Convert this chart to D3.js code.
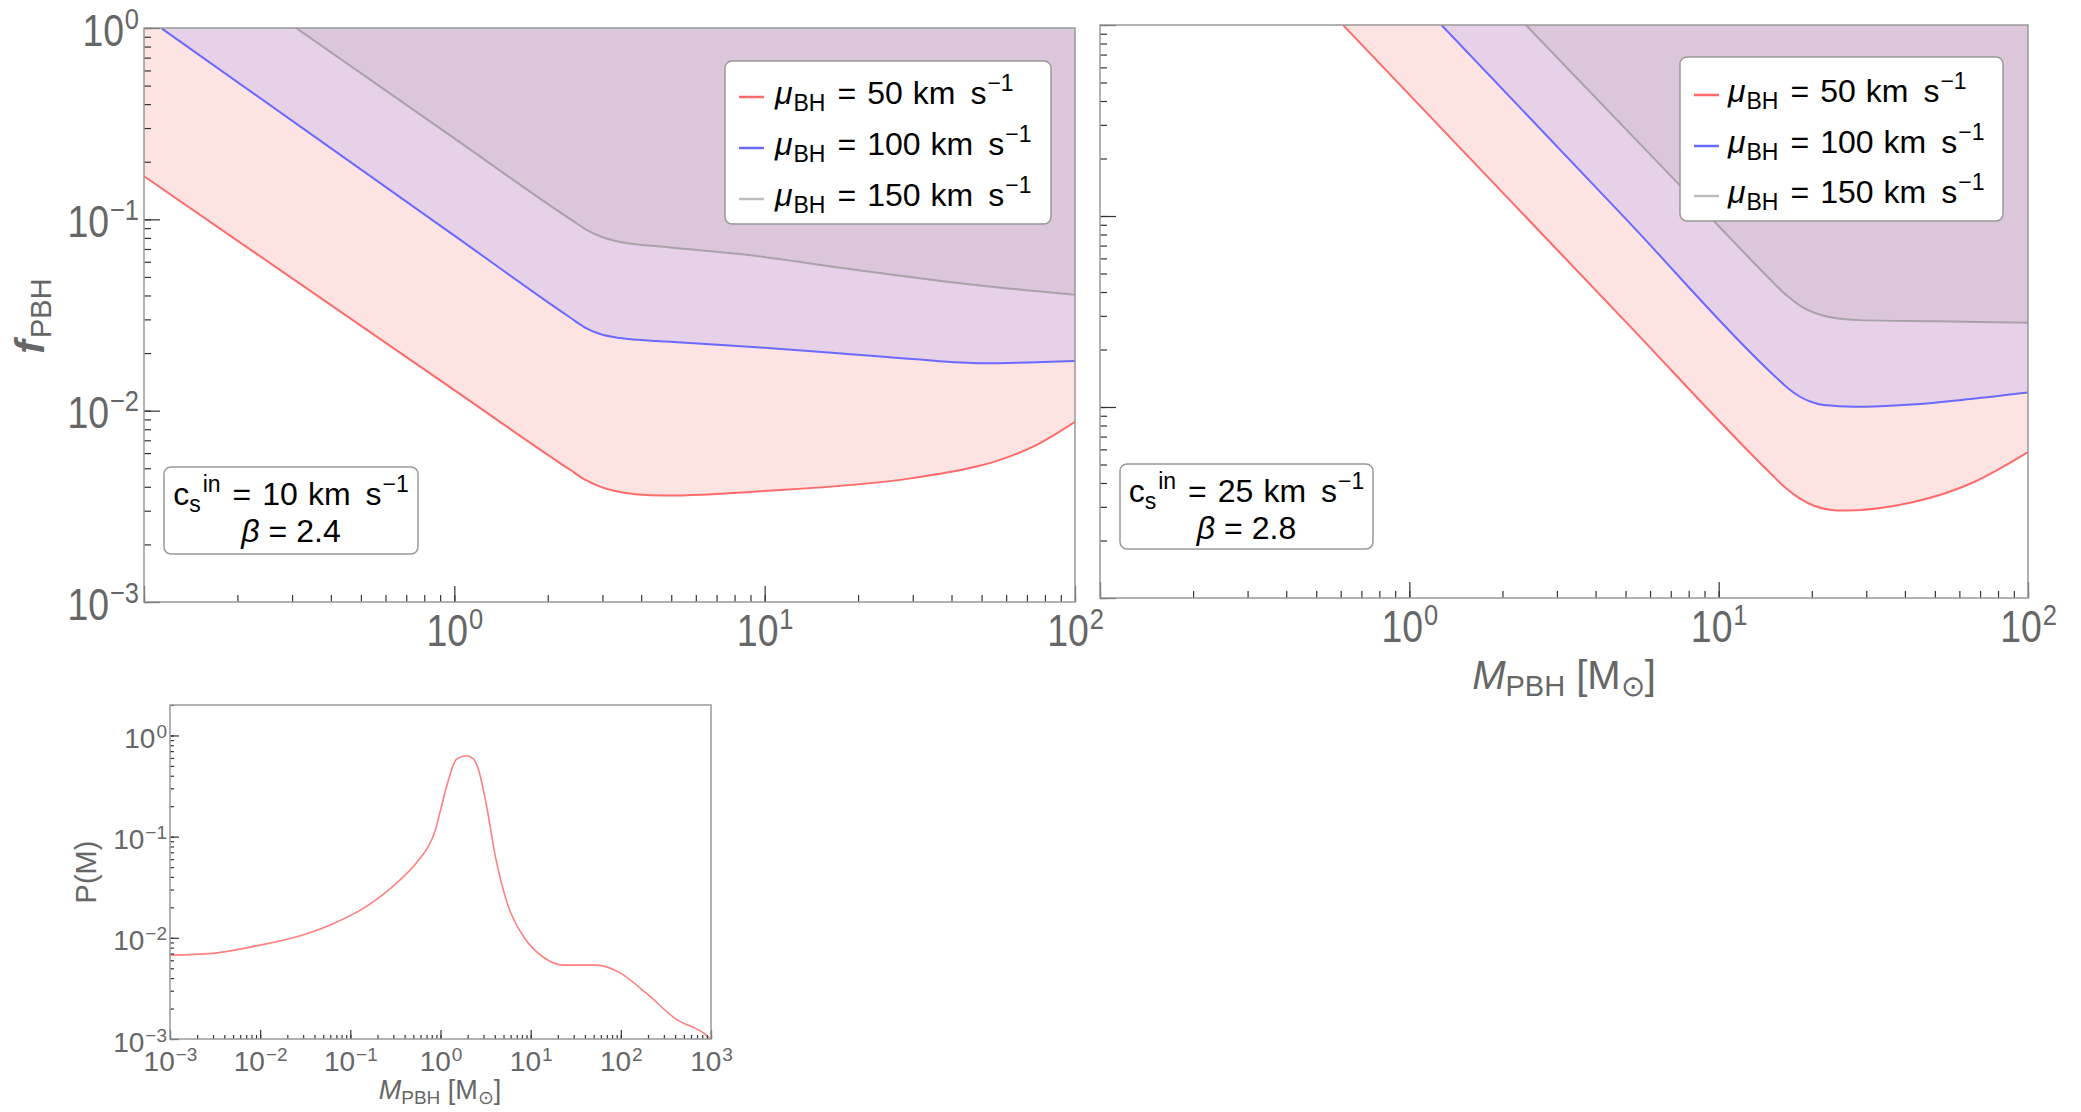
<!DOCTYPE html>
<html>
<head>
<meta charset="utf-8">
<script src="https://cdn.jsdelivr.net/npm/d3@7"></script>
<style>
  body { margin: 0; background: #fff; }
  svg { display: block; }
</style>
</head>
<body>
<svg id="chart" width="2081" height="1112"></svg>
<script>
// ---- data ----
// left panel: c_s^in = 10 km/s, beta = 2.4
const redLeftMass = [0.1, 1, 2.36, 2.638, 2.949, 3.296, 3.822, 4.81, 10, 29.9, 45, 55.7, 75, 100];
const redLeftF = [0.168, 0.0128, 0.00491, 0.00436, 0.00401, 0.0038, 0.00366, 0.0036, 0.0038, 0.00444, 0.00498, 0.00545, 0.00661, 0.00875];
const blueLeftMass = [0.1135, 1, 2.36, 2.638, 2.949, 3.42, 4.8, 10, 17.7, 30, 50.2, 100];
const blueLeftF = [1, 0.0822, 0.0307, 0.0272, 0.02514, 0.02396, 0.023, 0.0213, 0.0199, 0.0186, 0.0177, 0.0182];
const grayLeftMass = [0.309, 1, 2.395, 2.677, 2.992, 3.42, 4.8, 8.6, 17.7, 50.2, 100];
const grayLeftF = [1, 0.265, 0.0988, 0.0879, 0.0808, 0.0761, 0.0717, 0.0655, 0.0557, 0.045, 0.0404];

// right panel: c_s^in = 25 km/s, beta = 2.8
const redRightMass = [0.61, 5, 14.62, 16.34, 18.27, 20.43, 22.84, 25.53, 42, 67, 100];
const redRightF = [1, 0.028, 0.00454, 0.00381, 0.00332, 0.00303, 0.0029, 0.00287, 0.00316, 0.00405, 0.0058];
const blueRightMass = [1.27, 5, 15.28, 16.71, 18.27, 19.98, 21.84, 27.5, 42, 65, 100];
const blueRightF = [1, 0.0969, 0.01436, 0.01258, 0.01135, 0.01062, 0.01024, 0.01002, 0.0103, 0.011, 0.0119];
const grayRightMass = [2.38, 8, 14.62, 15.98, 17.47, 19.1, 20.89, 23.7, 28.55, 50, 100];
const grayRightF = [1, 0.1294, 0.0468, 0.0405, 0.0359, 0.0326, 0.0307, 0.0292, 0.0285, 0.0281, 0.0276];

// bottom panel: mass function P(M)
const pmMass = [0.001, 0.00295, 0.00875, 0.0291, 0.0626, 0.1346, 0.29, 0.548, 0.71, 0.847, 1.02, 1.21, 1.5,
  1.93, 2.3, 2.6, 3.2, 4.07, 5.5, 8.4, 13.6, 23.4, 54.3, 93.8, 193, 398, 927, 1000];
const pmValue = [0.00675, 0.00702, 0.00828, 0.0106, 0.01365, 0.0192, 0.0317, 0.0558, 0.0764, 0.1056, 0.195, 0.35, 0.58,
  0.63, 0.59, 0.48, 0.214, 0.063, 0.0219, 0.0102, 0.0065, 0.00537, 0.00537, 0.00461, 0.00282, 0.0016, 0.00105, 0.00098];

const speeds = ["50", "100", "150"];
const fMajorTicks = [0.001, 0.01, 0.1, 1];
const mMajorTicks = [0.1, 1, 10, 100];
const mLabelTicks = [1, 10, 100];
const pmMajorTicks = [0.001, 0.01, 0.1, 1, 10, 100, 1000];
const pMajorTicks = [0.001, 0.01, 0.1, 1];

const FONT = '"Liberation Sans", Arial, Helvetica, sans-serif';
const RED = "#ff6b6b", BLUE = "#6a6aff", GRAY = "rgba(140,140,140,0.65)";
const FILLS = ["#fee3e3", "#e6d1e8", "#dbc6da"];

const svg = d3.select("#chart").attr("font-family", FONT);

function makePanel(name, box, xDomain, yDomain) {
  const x = d3.scaleLog().domain(xDomain).range([box.left, box.right]);
  const y = d3.scaleLog().domain(yDomain).range([box.bottom, box.top]);
  svg.append("clipPath").attr("id", "clip-" + name).append("rect")
    .attr("x", box.left).attr("y", box.top)
    .attr("width", box.right - box.left).attr("height", box.bottom - box.top);
  const g = svg.append("g");
  const plot = g.append("g").attr("clip-path", `url(#clip-${name})`);
  return { x, y, g, plot, box };
}

function expLabels(sel, supSize, raise) {
  sel.each(function (d) {
    const t = d3.select(this);
    const e = Math.round(Math.log10(d));
    t.text(null);
    t.append("tspan").text("10");
    t.append("tspan").attr("font-size", supSize).attr("dy", -raise).attr("dx", 1)
      .text(e < 0 ? "\u2212" + (-e) : e);
  });
}

function drawAxes(p, cfg) {
  const { x, y, g, box } = p;
  const style = a => {
    a.attr("font-family", FONT);
    a.select(".domain").remove();
    a.selectAll("line").attr("stroke", "#333").attr("stroke-width", 1.2);
  };
  // minor ticks
  g.append("g").attr("transform", `translate(0,${box.bottom})`)
    .call(d3.axisBottom(x).tickValues(x.ticks()).tickSizeInner(-cfg.minor).tickSizeOuter(0).tickFormat(""))
    .call(style);
  g.append("g").attr("transform", `translate(${box.left},0)`)
    .call(d3.axisLeft(y).tickValues(y.ticks()).tickSizeInner(-cfg.minor).tickSizeOuter(0).tickFormat(""))
    .call(style);
  // major ticks
  g.append("g").attr("transform", `translate(0,${box.bottom})`)
    .call(d3.axisBottom(x).tickValues(cfg.xMajor).tickSizeInner(-cfg.major).tickSizeOuter(0).tickFormat(""))
    .call(style);
  g.append("g").attr("transform", `translate(${box.left},0)`)
    .call(d3.axisLeft(y).tickValues(cfg.yMajor).tickSizeInner(-cfg.major).tickSizeOuter(0).tickFormat(""))
    .call(style);
  // labels
  const xl = g.append("g").attr("transform", `translate(0,${box.bottom})`)
    .call(d3.axisBottom(x).tickValues(cfg.xLabels).tickSize(0).tickFormat(d => d))
    .call(style);
  xl.selectAll("text").attr("y", cfg.xLabelY).attr("dy", 0)
    .attr("font-size", cfg.font).attr("fill", "#666")
    .attr("transform", `scale(${cfg.squeeze},1)`)
    .call(expLabels, cfg.sup, cfg.raise);
  if (cfg.yLabels) {
    const yl = g.append("g").attr("transform", `translate(${box.left},0)`)
      .call(d3.axisLeft(y).tickValues(cfg.yLabels).tickSize(0).tickFormat(d => d))
      .call(style);
    yl.selectAll("text").attr("x", -cfg.yPad / cfg.squeeze).attr("dy", cfg.yLabelDy)
      .attr("font-size", cfg.font).attr("fill", "#666")
      .attr("transform", `scale(${cfg.squeeze},1)`)
      .call(expLabels, cfg.sup, cfg.raise);
  }
  g.append("rect").attr("x", box.left).attr("y", box.top)
    .attr("width", box.right - box.left).attr("height", box.bottom - box.top)
    .attr("fill", "none").attr("stroke", "#999").attr("stroke-width", 1.5);
}

function drawBands(p, series) {
  const top = p.box.top;
  series.forEach((s, i) => {
    const pts = s.m.map((m, j) => [m, s.f[j]]);
    p.plot.append("path").datum(pts)
      .attr("fill", FILLS[i])
      .attr("d", d3.area().x(d => p.x(d[0])).y0(top).y1(d => p.y(d[1])).curve(d3.curveMonotoneX));
  });
  series.forEach(s => {
    const pts = s.m.map((m, j) => [m, s.f[j]]);
    p.plot.append("path").datum(pts)
      .attr("fill", "none").attr("stroke", s.color).attr("stroke-width", 2)
      .attr("d", d3.line().x(d => p.x(d[0])).y(d => p.y(d[1])).curve(d3.curveMonotoneX));
  });
}

// "= value km  s^-1" tail shared by legend rows and note boxes; back = dy that returns to the baseline
function kmPerS(t, value, back) {
  t.append("tspan").attr("dx", 12).attr("dy", back).text("=");
  t.append("tspan").attr("dx", 11).text(value);
  t.append("tspan").attr("dx", 10).text("km");
  t.append("tspan").attr("dx", 15).text("s");
  t.append("tspan").attr("font-size", 23).attr("dy", -13).attr("dx", 1).text("\u22121");
}

function legend(box, lineX, rowsY, textX) {
  const g = svg.append("g");
  g.append("rect").attr("x", box.x).attr("y", box.y).attr("width", box.w).attr("height", box.h)
    .attr("rx", 7).attr("fill", "#fff").attr("stroke", "#999").attr("stroke-width", 1.5);
  const colors = [RED, BLUE, "#bdbdbd"];
  speeds.forEach((v, i) => {
    const yy = rowsY[i];
    g.append("line").attr("x1", lineX).attr("x2", lineX + 25).attr("y1", yy).attr("y2", yy)
      .attr("stroke", colors[i]).attr("stroke-width", 2.5);
    const t = g.append("text").attr("x", textX).attr("y", yy + 7).attr("font-size", 32).attr("fill", "#000");
    t.append("tspan").attr("font-style", "italic").text("\u03bc");
    t.append("tspan").attr("font-size", 23).attr("dy", 7).attr("dx", 1).text("BH");
    kmPerS(t, v, -7);
  });
}

function noteBox(box, cs, beta) {
  const g = svg.append("g");
  g.append("rect").attr("x", box.x).attr("y", box.y).attr("width", box.w).attr("height", box.h)
    .attr("rx", 7).attr("fill", "#fff").attr("stroke", "#999").attr("stroke-width", 1.5);
  const cx = box.x + box.w / 2;
  const t1 = g.append("text").attr("x", cx).attr("y", box.y + 38).attr("text-anchor", "middle")
    .attr("font-size", 32);
  t1.append("tspan").text("c");
  t1.append("tspan").attr("font-size", 23).attr("dy", 7).text("s");
  t1.append("tspan").attr("font-size", 23).attr("dy", -20).attr("dx", 2).text("in");
  kmPerS(t1, cs, 13);
  const t2 = g.append("text").attr("x", cx).attr("y", box.y + 75).attr("text-anchor", "middle")
    .attr("font-size", 32);
  t2.append("tspan").attr("font-style", "italic").text("\u03b2");
  t2.append("tspan").attr("dx", 9).text("=");
  t2.append("tspan").attr("dx", 9).text(beta);
}

// ---- left panel ----
const bigAxis = { minor: 7, major: 16, font: 44, sup: 30, raise: 17, squeeze: 0.85,
  xLabelY: 44, yPad: 5, yLabelDy: 17, xMajor: mMajorTicks, yMajor: fMajorTicks, xLabels: mLabelTicks };

const left = makePanel("left", { left: 144, right: 1075, top: 28, bottom: 602 }, [0.1, 100], [0.001, 1]);
drawBands(left, [
  { m: redLeftMass, f: redLeftF, color: RED },
  { m: blueLeftMass, f: blueLeftF, color: BLUE },
  { m: grayLeftMass, f: grayLeftF, color: GRAY }
]);
drawAxes(left, Object.assign({}, bigAxis, { yLabels: fMajorTicks }));
legend({ x: 725, y: 61, w: 326, h: 163 }, 739, [97, 148, 199], 775);
noteBox({ x: 164, y: 467, w: 254, h: 87 }, "10", "2.4");

// ---- right panel ----
const right = makePanel("right", { left: 1100, right: 2028, top: 25, bottom: 598 }, [0.1, 100], [0.001, 1]);
drawBands(right, [
  { m: redRightMass, f: redRightF, color: RED },
  { m: blueRightMass, f: blueRightF, color: BLUE },
  { m: grayRightMass, f: grayRightF, color: GRAY }
]);
drawAxes(right, Object.assign({}, bigAxis, { yLabels: null }));
legend({ x: 1680, y: 57, w: 323, h: 164 }, 1694, [95, 146, 196], 1728);
noteBox({ x: 1120, y: 464, w: 253, h: 85 }, "25", "2.8");

// axis titles of the top row
const fl = svg.append("text").attr("transform", "translate(44,316) rotate(-90)")
  .attr("text-anchor", "middle").attr("fill", "#666").attr("font-size", 41);
fl.append("tspan").attr("font-style", "italic").attr("font-weight", "bold").text("f");
fl.append("tspan").attr("font-size", 29).attr("dy", 7).attr("dx", 2).text("PBH");

function massTitle(x, y, size, sub) {
  const t = svg.append("text").attr("x", x).attr("y", y).attr("text-anchor", "middle")
    .attr("fill", "#666").attr("font-size", size);
  const d = Math.round(size * 0.18);
  t.append("tspan").attr("font-style", "italic").text("M");
  t.append("tspan").attr("font-size", sub).attr("dy", d).text("PBH");
  t.append("tspan").attr("dy", -d).text(" [M");
  t.append("tspan").attr("font-size", sub).attr("dy", d).text("\u2299");
  t.append("tspan").attr("dy", -d).text("]");
}
massTitle(1564, 689, 40, 29);

// ---- bottom panel ----
const bottom = makePanel("bottom", { left: 170, right: 711, top: 705, bottom: 1039 }, [0.001, 1000], [0.001, 2]);
bottom.plot.append("path").datum(pmMass.map((m, i) => [m, pmValue[i]]))
  .attr("fill", "none").attr("stroke", "#ff8080").attr("stroke-width", 1.6)
  .attr("d", d3.line().x(d => bottom.x(d[0])).y(d => bottom.y(d[1])).curve(d3.curveMonotoneX));
drawAxes(bottom, { minor: 4, major: 9, font: 28, sup: 19, raise: 10, squeeze: 1,
  xLabelY: 32, yPad: 3, yLabelDy: 12, xMajor: pmMajorTicks, yMajor: pMajorTicks,
  xLabels: pmMajorTicks, yLabels: pMajorTicks });
svg.append("text").attr("transform", "translate(96,872) rotate(-90)")
  .attr("text-anchor", "middle").attr("fill", "#666").attr("font-size", 29).text("P(M)");
massTitle(440, 1099, 27, 19);
</script>
</body>
</html>
